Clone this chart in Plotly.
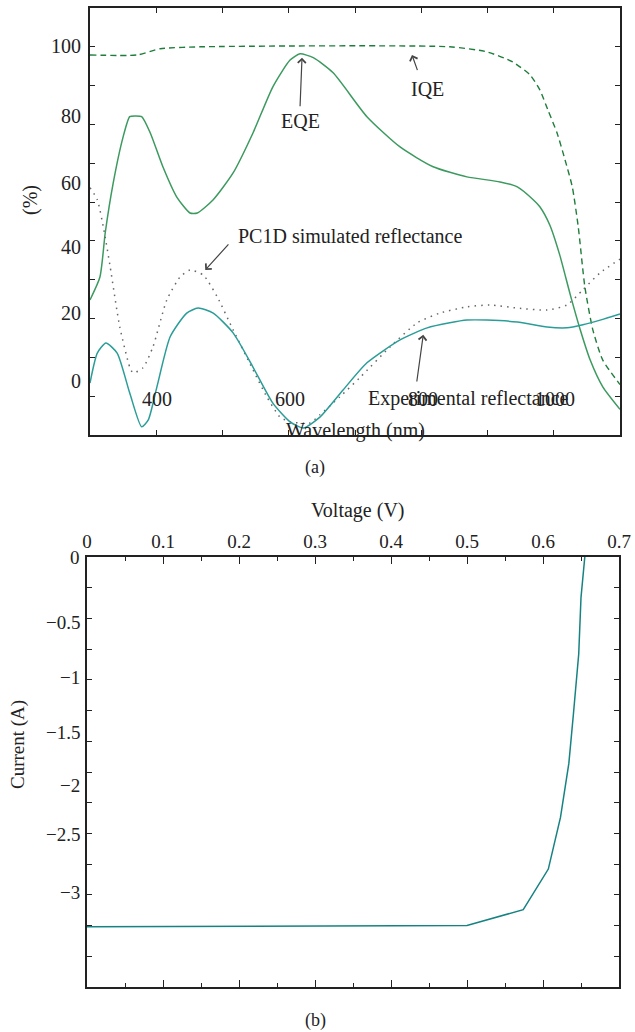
import plotly.graph_objects as go

# ---------------- data: panel (a) ----------------
eqe_wl = [300, 315, 323, 335, 350, 360, 368, 378, 391, 410, 431, 451, 462, 486, 516, 546, 576, 602, 617, 637,
          667, 718, 768, 818, 869, 919, 945, 969, 979, 994, 1009, 1025, 1040, 1055, 1074, 1100]
eqe_val = [34.8, 40.7, 52.1, 64.9, 76.8, 82.0, 82.2, 82.0, 77.8, 69.1, 61.3, 57.2, 57.2, 60.6, 67.5, 77.8, 89.7, 96.6, 98.2, 97.2,
           93.3, 82.0, 74.2, 69.1, 66.5, 65.2, 63.9, 60.6, 58.8, 54.1, 46.4, 36.1, 27.1, 19.3, 12.4, 6.6]

iqe_wl = [300, 371, 406, 466, 843, 899, 938, 964, 979, 991, 1005, 1017, 1028, 1037, 1047, 1059, 1074, 1100]
iqe_val = [97.9, 97.9, 99.5, 100, 100, 98.7, 96.1, 92.8, 88.9, 83.8, 77.8, 70.9, 63.9, 53.6, 38.1, 27.1, 19.3, 13.0]

pc1d_wl = [300, 311, 321, 330, 345, 360, 365, 380, 395, 416, 436, 451, 471, 492, 516, 546, 567, 587, 602, 632,
           647, 677, 708, 753, 794, 828, 869, 904, 945, 990, 1020, 1044, 1070, 1100]
pc1d_val = [63.7, 60.6, 52.8, 43.8, 27.8, 17.5, 16.0, 17.3, 22.7, 34.8, 40.7, 42.5, 41.2, 35.6, 27.1, 16.8, 9.8, 4.6, 3.4, 3.1,
            5.2, 9.8, 14.9, 22.7, 28.9, 31.4, 33.0, 33.5, 32.7, 32.2, 33.5, 37.4, 41.8, 45.3]

exp_wl = [300, 311, 324, 341, 360, 378, 388, 401, 421, 446, 463, 486, 516, 546, 576, 602, 622, 647, 682, 718,
          768, 809, 843, 869, 899, 945, 990, 1020, 1044, 1070, 1100]
exp_val = [13.4, 21.1, 23.7, 21.1, 10.8, 2.1, 3.9, 12.4, 25.3, 31.4, 32.7, 31.4, 26.3, 17.5, 8.2, 3.4, 1.8, 4.6, 11.6, 18.6,
           24.5, 27.6, 28.9, 29.6, 29.6, 29.1, 27.8, 27.6, 28.4, 29.6, 31.2]

# tick labels of panel (a) as printed (with the positions they appear at)
a_ylabels = ["100", "80", "60", "40", "20", "0"]
a_ylabel_pos = [100.3, 82.3, 65.0, 48.5, 31.5, 13.9]
a_xlabels = ["400", "600", "800", "1000"]
a_xlabel_pos = [401, 602, 803, 1002]

# ---------------- data: panel (b) ----------------
iv_v = [0.0, 0.5, 0.574, 0.607, 0.623, 0.634, 0.640, 0.647, 0.650, 0.655]
iv_i = [-3.01, -3.0, -2.87, -2.54, -2.12, -1.68, -1.28, -0.79, -0.33, 0.0]

b_ylabels = ["0", "\u22120.5", "\u22121", "\u22121.5", "\u22122", "\u22122.5", "\u22123", "\u22123.5"]
b_ylabel_pos = [0.0, -0.53, -0.98, -1.43, -1.86, -2.26, -2.73, -3.57]

FONT = "Liberation Serif"
AX = "#222222"
W, H = 635, 1032

fig = go.Figure()

fig.add_trace(go.Scatter(x=iqe_wl, y=iqe_val, mode="lines", xaxis="x", yaxis="y",
                         line=dict(color="#1f7d3c", width=1.4, dash="6px,4px", shape="spline", smoothing=0.6)))
fig.add_trace(go.Scatter(x=eqe_wl, y=eqe_val, mode="lines", xaxis="x", yaxis="y",
                         line=dict(color="#3c9a5f", width=1.5, shape="spline", smoothing=0.6)))
fig.add_trace(go.Scatter(x=pc1d_wl, y=pc1d_val, mode="lines", xaxis="x", yaxis="y",
                         line=dict(color="#666666", width=1.5, dash="1.5px,5px", shape="spline", smoothing=0.6)))
fig.add_trace(go.Scatter(x=exp_wl, y=exp_val, mode="lines", xaxis="x", yaxis="y",
                         line=dict(color="#2a9d98", width=1.5, shape="spline", smoothing=0.6)))

fig.add_trace(go.Scatter(x=iv_v, y=iv_i, mode="lines", xaxis="x2", yaxis="y2",
                         line=dict(color="#178282", width=1.5)))

axis_common = dict(showline=True, linecolor=AX, linewidth=1.5, mirror="ticks", ticks="inside",
                   tickcolor=AX, tickwidth=1.2, showgrid=False, zeroline=False, automargin=False)

fig.update_layout(
    width=W, height=H, autosize=False,
    margin=dict(l=0, r=0, t=0, b=0, pad=0),
    paper_bgcolor="white", plot_bgcolor="white",
    showlegend=False,
    font=dict(family=FONT, size=19, color="#222222"),
    xaxis=dict(domain=[90/W, 620/W], anchor="y", range=[300, 1100], tickmode="linear", tick0=300, dtick=100,
               ticklen=5, showticklabels=False, **axis_common),
    yaxis=dict(domain=[1-435/H, 1-8/H], anchor="x", range=[0, 110], tickmode="linear", tick0=0, dtick=10,
               ticklen=5, showticklabels=False, **axis_common),
    xaxis2=dict(domain=[87/W, 619/W], anchor="y2", side="top", range=[0, 0.7], tickmode="linear", tick0=0,
                dtick=0.1, ticklen=7, showticklabels=True, tickfont=dict(family=FONT, size=19),
                minor=dict(dtick=0.05, ticklen=4, ticks="inside", tickcolor=AX, tickwidth=1.2),
                **axis_common),
    yaxis2=dict(domain=[1-987/H, 1-557/H], anchor="x2", range=[-3.5, 0], tickmode="linear", tick0=0,
                dtick=0.25, ticklen=5, showticklabels=False, **axis_common),
)

ann = []
for t, p in zip(a_ylabels, a_ylabel_pos):
    ann.append(dict(text=t, x=83/W, xref="paper", y=p, yref="y", xanchor="right", yanchor="middle",
                    showarrow=False, font=dict(size=20)))
for t, p in zip(a_xlabels, a_xlabel_pos):
    ann.append(dict(text=t, x=p, xref="x", y=9.3, yref="y", xanchor="center", yanchor="middle",
                    showarrow=False, font=dict(size=20)))
ann.append(dict(text="Wavelength (nm)", x=355/W, xref="paper", y=1-430/H, yref="paper",
                xanchor="center", yanchor="middle", showarrow=False, font=dict(size=20)))
ann.append(dict(text="(%)", x=30/W, xref="paper", y=1-200/H, yref="paper", textangle=-90,
                xanchor="center", yanchor="middle", showarrow=False, font=dict(size=20)))
ann.append(dict(text="(a)", x=315/W, xref="paper", y=1-468/H, yref="paper",
                xanchor="center", yanchor="middle", showarrow=False, font=dict(size=18)))

ann.append(dict(text="EQE", x=617, y=81.0, xref="x", yref="y", showarrow=False, font=dict(size=20)))
ann.append(dict(text="IQE", x=810, y=89.2, xref="x", yref="y", showarrow=False, font=dict(size=20)))
ann.append(dict(text="PC1D simulated reflectance", x=692, y=51.3, xref="x", yref="y", showarrow=False,
                font=dict(size=20)))
ann.append(dict(text="Experimental reflectance", x=872, y=9.3, xref="x", yref="y", showarrow=False,
                font=dict(size=20)))

arrows = [((620, 97.2), (617, 84.3)),
          ((786, 97.9), (795, 93.6)),
          ((474, 42.5), (511, 49.5)),
          ((803, 25.8), (793, 13.4))]
for (tx, ty), (sx, sy) in arrows:
    ann.append(dict(text="", x=tx, y=ty, xref="x", yref="y", ax=sx, ay=sy, axref="x", ayref="y",
                    showarrow=True, arrowhead=4, arrowsize=1.3, arrowwidth=1.2, arrowcolor="#444444"))

for t, p in zip(b_ylabels, b_ylabel_pos):
    ann.append(dict(text=t, x=82/W, xref="paper", y=p, yref="y2", xanchor="right", yanchor="middle",
                    showarrow=False, font=dict(size=19)))
ann.append(dict(text="Voltage (V)", x=358/W, xref="paper", y=1-510/H, yref="paper",
                xanchor="center", yanchor="middle", showarrow=False, font=dict(size=20)))
ann.append(dict(text="Current (A)", x=18/W, xref="paper", y=1-745/H, yref="paper", textangle=-90,
                xanchor="center", yanchor="middle", showarrow=False, font=dict(size=19)))
ann.append(dict(text="(b)", x=315/W, xref="paper", y=1-1020/H, yref="paper",
                xanchor="center", yanchor="middle", showarrow=False, font=dict(size=18)))

fig.update_layout(annotations=ann)

fig.write_html("out.html",
               config={"responsive": False, "displayModeBar": False},
               post_script="document.body.style.margin='0';document.body.style.overflow='hidden';")
